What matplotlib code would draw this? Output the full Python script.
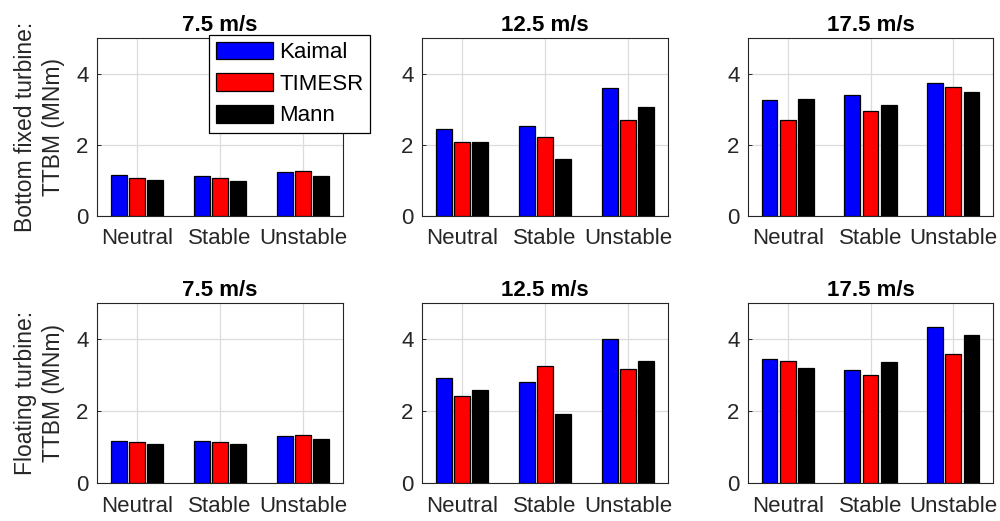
import matplotlib
matplotlib.use("Agg")
import matplotlib.pyplot as plt
import numpy as np

plt.rcParams['font.family'] = ['Liberation Sans', 'DejaVu Sans']

categories = ["Neutral", "Stable", "Unstable"]
models = ["Kaimal", "TIMESR", "Mann"]
colors = ["#0000ff", "#ff0000", "#000000"]
speeds = ["7.5 m/s", "12.5 m/s", "17.5 m/s"]
row_labels = ["Bottom fixed turbine:\nTTBM (MNm)", "Floating turbine:\nTTBM (MNm)"]

# Tower-top bending moment, bottom-fixed turbine: [speed][model][stability]
fixed_7_5 = [[1.14, 1.11, 1.23], [1.07, 1.07, 1.27], [1.01, 0.99, 1.12]]
fixed_12_5 = [[2.44, 2.53, 3.60], [2.07, 2.21, 2.70], [2.07, 1.59, 3.05]]
fixed_17_5 = [[3.26, 3.40, 3.74], [2.70, 2.96, 3.61], [3.28, 3.12, 3.48]]

# Tower-top bending moment, floating turbine
float_7_5 = [[1.17, 1.17, 1.31], [1.14, 1.14, 1.34], [1.08, 1.08, 1.21]]
float_12_5 = [[2.91, 2.80, 4.00], [2.41, 3.25, 3.16], [2.57, 1.92, 3.38]]
float_17_5 = [[3.45, 3.13, 4.34], [3.38, 2.99, 3.58], [3.20, 3.36, 4.10]]

data = [[fixed_7_5, fixed_12_5, fixed_17_5],
        [float_7_5, float_12_5, float_17_5]]

W, H = 1000, 521
fig = plt.figure(figsize=(W / 100, H / 100), dpi=100)

col_x = [(97, 343), (422, 668), (748, 993)]
row_y = [(38, 216), (303, 483)]

text_col = "#262626"
bar_w = 0.19
offsets = [-0.22, 0.0, 0.22]
x = np.arange(1, len(categories) + 1)

for r in range(2):
    for c in range(3):
        x0, x1 = col_x[c]
        y0, y1 = row_y[r]
        ax = fig.add_axes([x0 / W, 1 - y1 / H, (x1 - x0) / W, (y1 - y0) / H])
        ax.set_axisbelow(True)
        for m in range(3):
            ax.bar(x + offsets[m], data[r][c][m], width=bar_w, color=colors[m],
                   edgecolor="black", linewidth=0.9, label=models[m], zorder=3)
        ax.set_xlim(0.52, 3.48)
        ax.set_ylim(0, 5)
        ax.set_yticks([0, 2, 4])
        ax.set_xticks(x)
        ax.set_xticklabels(categories)
        ax.grid(True, color="#dcdcdc", linewidth=0.9)
        ax.tick_params(direction="in", length=3, width=0.7, colors=text_col,
                       labelsize=16, pad=9)
        ax.tick_params(axis="y", pad=6)
        for s in ax.spines.values():
            s.set_color(text_col)
            s.set_linewidth(0.8)
        ax.set_title(speeds[c], fontsize=16, fontweight="bold", color="black", pad=5)
        if c == 0:
            ax.set_ylabel(row_labels[r], fontsize=16.5, color=text_col, labelpad=8,
                          linespacing=1.3)
        if r == 0 and c == 0:
            leg = ax.legend(loc="upper left", bbox_to_anchor=(209 / W, 1 - 35 / H),
                            bbox_transform=fig.transFigure, fontsize=16,
                            frameon=True, fancybox=False, framealpha=1,
                            edgecolor="black", handlelength=2.6, handleheight=0.85,
                            handletextpad=0.25, labelspacing=0.45, borderpad=0.3,
                            borderaxespad=0)
            leg.get_frame().set_linewidth(0.9)

fig.savefig("out.png", dpi=100)
